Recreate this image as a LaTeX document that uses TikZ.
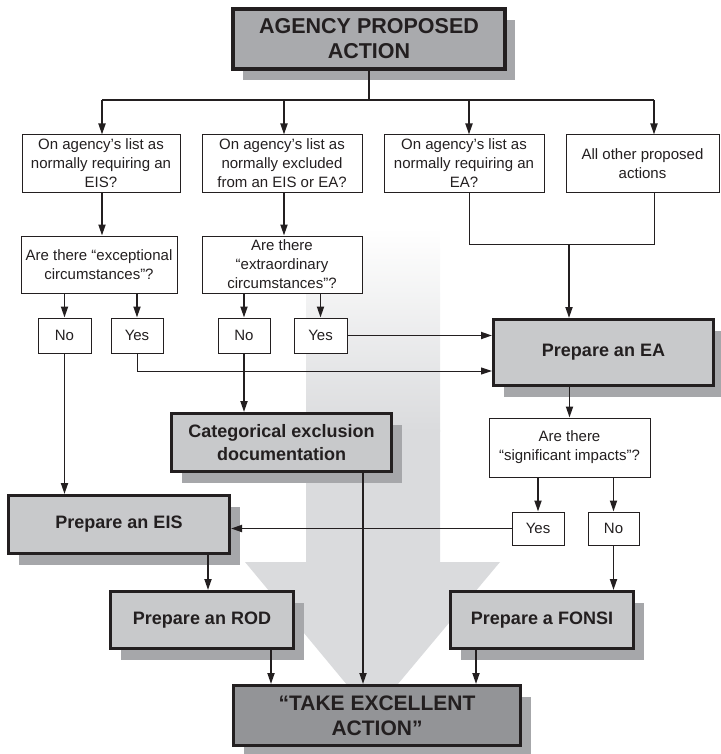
\documentclass[tikz,border=0pt]{standalone}
\usepackage{fontspec}
\setmainfont{Liberation Sans}
\usetikzlibrary{arrows.meta,shadows}
\definecolor{ink}{HTML}{231F20}
\definecolor{gfill}{HTML}{C8C9CB}
\definecolor{topfill}{HTML}{A9AAAD}
\definecolor{shgray}{HTML}{A6A7AA}
\definecolor{takefill}{HTML}{939497}
\definecolor{bgarrow}{HTML}{DADBDD}
\begin{document}
\begin{tikzpicture}[x=1pt,y=-1pt,
  qbox/.style={draw=ink, line width=1pt, fill=white, align=center, inner sep=0pt,
    text=ink, font=\fontsize{15}{19}\selectfont},
  gbox/.style={draw=ink, line width=3pt, fill=gfill, align=center, inner sep=0pt,
    text=ink, font=\bfseries\fontsize{18}{23}\selectfont,
    drop shadow={shadow xshift=10pt, shadow yshift=-11pt, fill=shgray, opacity=1}},
  arr/.style={draw=ink, line width=1.8pt, -{Triangle[length=11pt,width=7pt]}},
  thinarr/.style={draw=ink, line width=1pt, -{Triangle[length=11pt,width=7pt]}},
  thinline/.style={draw=ink, line width=1pt},
  busline/.style={draw=ink, line width=1.3pt},
  thickline/.style={draw=ink, line width=1.8pt}]
\useasboundingbox (0,0) rectangle (720,754);
% background arrow
\shade[top color=white, bottom color=bgarrow] (306,228) rectangle (440,431);
\fill[bgarrow] (306,430) -- (440,430) -- (440,562) -- (500,562) -- (372,715)
  -- (245,562) -- (306,562) -- cycle;
% nodes
\node[gbox, fill=topfill, line width=4pt, minimum width=272pt, minimum height=60pt,
  font=\bfseries\fontsize{21.5}{25}\selectfont] (top) at (369,39) {AGENCY PROPOSED\\ACTION};
\node[qbox, minimum width=158pt, minimum height=57pt] (q1) at (101,163.5) {On agency’s list as\\normally requiring an\\EIS?};
\node[qbox, minimum width=160pt, minimum height=57pt] (q2) at (282,163.5) {On agency’s list as\\normally excluded\\from an EIS or EA?};
\node[qbox, minimum width=160pt, minimum height=57pt] (q3) at (464,163.5) {On agency’s list as\\normally requiring an\\EA?};
\node[qbox, minimum width=153pt, minimum height=57pt] (q4) at (642.5,163.5) {All other proposed\\actions};
\node[qbox, minimum width=156pt, minimum height=57pt] (e1) at (99,264.5) {Are there “exceptional\\circumstances”?};
\node[qbox, minimum width=160pt, minimum height=57pt] (e2) at (282,264.5) {Are there\\“extraordinary\\circumstances”?};
\node[qbox, minimum width=53pt, minimum height=35pt] (no1) at (64.5,335.5) {No};
\node[qbox, minimum width=52pt, minimum height=35pt] (yes1) at (137,335.5) {Yes};
\node[qbox, minimum width=52pt, minimum height=35pt] (no2) at (244,335.5) {No};
\node[qbox, minimum width=53pt, minimum height=35pt] (yes2) at (320.5,335.5) {Yes};
\node[gbox, minimum width=220pt, minimum height=66pt] (ea) at (603.5,352.5) {Prepare an EA};
\node[gbox, minimum width=220pt, minimum height=58pt] (cat) at (281.5,442.5) {Categorical exclusion\\documentation};
\node[qbox, minimum width=161pt, minimum height=59pt] (sig) at (569.5,447.5) {Are there\\“significant impacts”?};
\node[gbox, minimum width=221pt, minimum height=58pt] (eis) at (119,524.5) {Prepare an EIS};
\node[qbox, minimum width=52pt, minimum height=33pt] (yes3) at (538,528.5) {Yes};
\node[qbox, minimum width=51pt, minimum height=33pt] (no3) at (613.5,528.5) {No};
\node[gbox, minimum width=183pt, minimum height=57pt] (rod) at (202,620) {Prepare an ROD};
\node[gbox, minimum width=183pt, minimum height=57pt] (fonsi) at (542,620) {Prepare a FONSI};
\node[gbox, fill=takefill, minimum width=287pt, minimum height=60pt,
  font=\bfseries\fontsize{21}{25}\selectfont] (take) at (377,715.5) {“TAKE EXCELLENT\\ACTION”};
% coordinates
\coordinate (b1) at (102,100);
\coordinate (b2) at (284,100);
\coordinate (b3) at (469,100);
\coordinate (b4) at (654,100);
\coordinate (m3) at (469,244);
\coordinate (m4) at (654,244);
\coordinate (mm) at (569,244);
\coordinate (y1c) at (137,371);
\coordinate (c1) at (363,0);
\coordinate (r1) at (208,0);
\coordinate (r2) at (271,0);
\coordinate (f1) at (476,0);
% connectors
\draw[thickline] (top.south) -- (top.south |- b1);
\draw[busline] (b1) -- (b4);
\draw[arr] (b1) -- (b1 |- q1.north);
\draw[arr] (b2) -- (b2 |- q2.north);
\draw[arr] (b3) -- (b3 |- q3.north);
\draw[arr] (b4) -- (b4 |- q4.north);
\draw[arr] (q1.south -| b1) -- (e1.north -| b1);
\draw[arr] (q2.south -| b2) -- (e2.north -| b2);
\draw[arr] (no1.north |- e1.south) -- (no1.north);
\draw[arr] (yes1.north |- e1.south) -- (yes1.north);
\draw[arr] (no2.north |- e2.south) -- (no2.north);
\draw[arr] (yes2.north |- e2.south) -- (yes2.north);
\draw[thinline] (q3.south -| m3) -- (m3) -- (m4) -- (q4.south -| m4);
\draw[arr] (mm) -- (mm |- ea.north);
\draw[arr] (yes2.east) -- (yes2.east -| ea.west);
\draw[thinarr] (yes1.south) -- (y1c) -- (y1c -| ea.west);
\draw[arr] (no2.south) -- (no2.south |- cat.north);
\draw[arr] (no1.south) -- (no1.south |- eis.north);
\draw[arr] (cat.south -| c1) -- (take.north -| c1);
\draw[arr] (sig.north |- ea.south) -- (sig.north);
\draw[arr] (yes3.north |- sig.south) -- (yes3.north);
\draw[arr] (no3.north |- sig.south) -- (no3.north);
\draw[arr] (yes3.west) -- (yes3.west -| eis.east);
\draw[arr] (no3.south) -- (no3.south |- fonsi.north);
\draw[arr] (eis.south -| r1) -- (rod.north -| r1);
\draw[arr] (rod.south -| r2) -- (take.north -| r2);
\draw[arr] (fonsi.south -| f1) -- (take.north -| f1);
\end{tikzpicture}
\end{document}
